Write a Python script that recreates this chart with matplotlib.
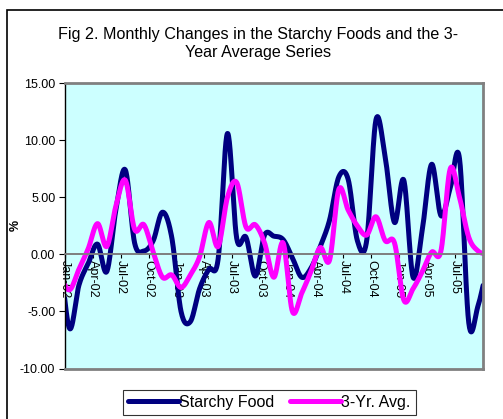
import numpy as np
import matplotlib
matplotlib.use("Agg")
import matplotlib.pyplot as plt
from matplotlib.patches import Rectangle

plt.rcParams['font.family'] = ['Liberation Sans', 'DejaVu Sans']

# monthly values, Dec-01 .. Oct-05 (first and last fall just outside the axis)
months = ['Dec-01'] + [m + '-' + y for y in ['02', '03', '04', '05']
                       for m in ['Jan', 'Feb', 'Mar', 'Apr', 'May', 'Jun',
                                 'Jul', 'Aug', 'Sep', 'Oct', 'Nov', 'Dec']][:46]
starchy = [-0.5,
           -6.5, -2.7, -0.8, 0.9, -1.5, 4.0, 7.4, 1.0, 0.3, 1.2, 3.7, 1.5,
           -5.0, -5.9, -3.0, -1.3, -0.4, 10.6, 1.4, 1.5, -1.9, 1.7, 1.6, 1.3,
           -0.3, -2.0, -1.2, 0.7, 3.0, 6.8, 6.6, 1.2, 1.2, 11.8, 8.5, 2.8,
           6.5, -2.0, 2.2, 7.9, 3.4, 5.8, 8.4, -6.0, -4.5, -1.0]
avg3yr = [-2.0,
          -3.1, -1.3, 0.5, 2.7, 0.7, 4.3, 6.5, 2.2, 2.6, 0.2, -2.0, -1.8,
          -2.9, -1.8, -0.2, 2.8, 0.7, 5.0, 6.3, 2.4, 2.6, 1.0, -2.0, 1.0,
          -5.0, -3.4, -1.5, 0.6, -0.5, 5.7, 3.9, 2.5, 1.7, 3.3, 1.2, 1.0,
          -4.0, -3.0, -1.5, 0.2, 0.3, 7.5, 5.0, 1.5, 0.3, 0.0]
tick_labels = ['Jan-02', 'Apr-02', 'Jul-02', 'Oct-02', 'Jan-03', 'Apr-03',
               'Jul-03', 'Oct-03', 'Jan-04', 'Apr-04', 'Jul-04', 'Oct-04',
               'Jan-05', 'Apr-05', 'Jul-05', '']


def smooth(x, y, n=24):
    # Catmull-Rom curve through the points, like Excel's smoothed line
    x = np.asarray(x, float)
    y = np.asarray(y, float)
    px = np.concatenate([[2 * x[0] - x[1]], x, [2 * x[-1] - x[-2]]])
    py = np.concatenate([[2 * y[0] - y[1]], y, [2 * y[-1] - y[-2]]])
    t = np.linspace(0, 1, n, endpoint=False)
    xs, ys = [], []
    for i in range(1, len(px) - 2):
        for p, out in ((px, xs), (py, ys)):
            p0, p1, p2, p3 = p[i - 1], p[i], p[i + 1], p[i + 2]
            out.append(0.5 * (2 * p1 + (p2 - p0) * t
                              + (2 * p0 - 5 * p1 + 4 * p2 - p3) * t ** 2
                              + (3 * p1 - p0 - 3 * p2 + p3) * t ** 3))
    xs.append([x[-1]])
    ys.append([y[-1]])
    return np.concatenate(xs), np.concatenate(ys)


x = np.arange(len(months)) - 0.5   # mid-month positions, Jan-02 tick at 0

fig = plt.figure(figsize=(5.03, 4.19), dpi=100)
fig.patches.append(Rectangle((7 / 503, -0.1), 1.2, 1.1 - 10 / 419,
                             transform=fig.transFigure, fill=False,
                             edgecolor='black', linewidth=1.2))

ax = fig.add_axes([65 / 503, 1 - 368.5 / 419, 417.7 / 503, 285.2 / 419])
ax.set_facecolor('#CCFFFF')

sx, sy = smooth(x, starchy)
ax.plot(sx, sy, color='#000080', lw=3.6, solid_capstyle='round',
        label='Starchy Food')
ax.axhline(0, color='#808080', lw=1.3, zorder=1)
px_, py_ = smooth(x, avg3yr)
ax.plot(px_, py_, color='#FF00FF', lw=3.6, solid_capstyle='round',
        label='3-Yr. Avg.')

ax.set_xlim(0, 45)
ax.set_ylim(-10, 15)
ax.set_yticks(np.arange(-10, 16, 5))
ax.set_yticklabels(['%.2f' % v for v in np.arange(-10, 16, 5)])
ax.set_xticks(np.arange(0, 46, 3))
ax.set_xticklabels(tick_labels)

ax.spines['bottom'].set_position(('data', 0))
ax.spines['bottom'].set_color('#808080')
ax.spines['bottom'].set_linewidth(1.3)
ax.spines['left'].set_color('black')
ax.spines['left'].set_linewidth(1.0)
for s in ['top', 'right']:
    ax.spines[s].set_color('#808080')
    ax.spines[s].set_linewidth(2.0)
ax.plot([0, 1], [0, 0], transform=ax.transAxes, color='#808080', lw=2.0,
        clip_on=False, zorder=5)
ax.tick_params(axis='x', length=3, width=0.8, pad=1, color='black',
               labelrotation=-90, labelsize=9)
ax.tick_params(axis='y', length=4, width=0.8, pad=3, labelsize=9)

ax.set_ylabel('%', fontsize=9, fontweight='bold')
ax.yaxis.set_label_coords(-0.103, 0.5)

fig.text(0.514, 1 - 44 / 419,
         'Fig 2. Monthly Changes in the Starchy Foods and the 3-\nYear Average Series',
         ha='center', va='center', fontsize=11.6, linespacing=1.25)

leg = fig.legend(loc='center', bbox_to_anchor=(0.5356, 0.0398), ncol=2,
                 fontsize=11.5, frameon=True, fancybox=False, edgecolor='black',
                 handlelength=3.2, handletextpad=0.0, columnspacing=1.0,
                 borderpad=0.3, borderaxespad=0)
leg.get_frame().set_linewidth(0.8)

fig.savefig('out.png', dpi=100)
